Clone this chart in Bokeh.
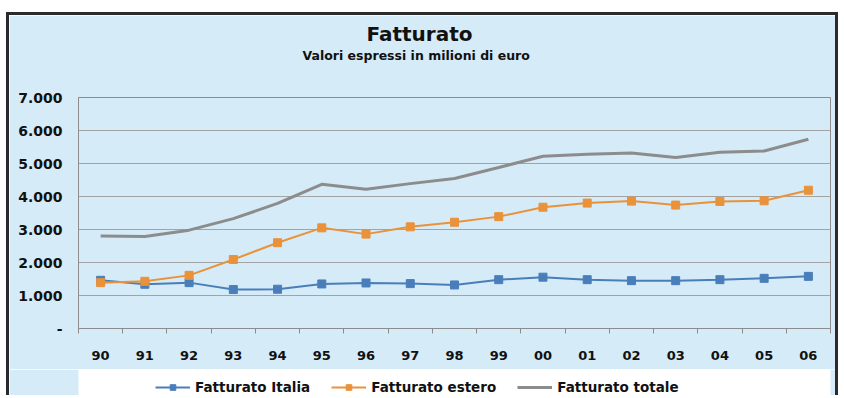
from bokeh.plotting import figure
from bokeh.models import FixedTicker, Legend, LegendItem, Title, Range1d
from bokeh.layouts import column
from bokeh.embed import file_html
from bokeh.resources import INLINE

# ---- data ----
years = ["90", "91", "92", "93", "94", "95", "96", "97", "98", "99",
         "00", "01", "02", "03", "04", "05", "06"]
italia = [1460, 1340, 1390, 1180, 1190, 1350, 1380, 1360, 1320, 1480,
          1555, 1480, 1450, 1450, 1480, 1520, 1580]
estero = [1390, 1430, 1610, 2090, 2600, 3050, 2860, 3080, 3220, 3390,
          3675, 3800, 3860, 3740, 3850, 3870, 4190]
totale = [2800, 2790, 2980, 3330, 3790, 4370, 4220, 4390, 4545, 4880,
          5220, 5280, 5320, 5180, 5340, 5380, 5735]
y_ticks = [0, 1000, 2000, 3000, 4000, 5000, 6000, 7000]
y_tick_labels = ["-", "1.000", "2.000", "3.000", "4.000", "5.000", "6.000", "7.000"]
series_names = ["Fatturato Italia", "Fatturato estero", "Fatturato totale"]
title_text = "Fatturato"
subtitle_text = "Valori espressi in milioni di euro"

BG = "#d5ebf7"
BLUE = "#4a7ebb"
ORANGE = "#e9923a"
GRAY = "#8c8c8c"
FONT = "DejaVu Sans"
EDGE = "3px solid #2b2b2b"

xs = list(range(len(years)))

p = figure(width=832, height=357, output_backend="svg", toolbar_location=None,
           x_range=Range1d(-0.5, len(years) - 0.5), y_range=Range1d(0, 7000),
           min_border_left=69, min_border_right=11, min_border_top=82,
           min_border_bottom=44)
p.margin = (12, 0, 0, 6)
p.styles = {"border-left": EDGE, "border-top": EDGE, "border-right": EDGE}
p.background_fill_color = BG
p.border_fill_color = BG
p.outline_line_color = GRAY
p.outline_line_width = 1

xa = p.below[0]
ya = p.left[0]

# titles (stacked from the frame upwards: spacer, subtitle, title)
p.title.text = title_text
p.title.text_font = FONT
p.title.text_font_size = "20px"
p.title.text_font_style = "bold"
p.title.text_color = "#111111"
p.title.align = "left"
p.title.offset = 288
p.title.standoff = 0
sub = Title(text=subtitle_text, text_font=FONT, text_font_size="12.5px",
            text_font_style="bold", text_color="#111111", align="left",
            offset=224, standoff=0)
spacer = Title(text=" ", text_font=FONT, text_font_size="10px", standoff=22)
p.add_layout(sub, "above")
p.add_layout(spacer, "above")
p.above = [spacer, sub]

# x axis
xa.ticker = FixedTicker(ticks=xs, minor_ticks=[i - 0.5 for i in range(len(years) + 1)])
xa.major_label_overrides = {i: y for i, y in enumerate(years)}
xa.major_tick_line_color = None
xa.major_tick_out = 0
xa.major_tick_in = 0
xa.minor_tick_line_color = GRAY
xa.minor_tick_out = 5
xa.minor_tick_in = 0
xa.axis_line_color = GRAY
xa.major_label_standoff = 17
xa.major_label_text_font = FONT
xa.major_label_text_font_style = "bold"
xa.major_label_text_font_size = "13px"
xa.major_label_text_color = "#111111"

# y axis
ya.ticker = FixedTicker(ticks=y_ticks, minor_ticks=[])
ya.major_label_overrides = {t: lab for t, lab in zip(y_ticks, y_tick_labels)}
ya.major_tick_line_color = None
ya.major_tick_out = 0
ya.major_tick_in = 0
ya.minor_tick_line_color = None
ya.axis_line_color = GRAY
ya.major_label_standoff = 16
ya.major_label_text_font = FONT
ya.major_label_text_font_style = "bold"
ya.major_label_text_font_size = "14px"
ya.major_label_text_color = "#111111"

p.xgrid.grid_line_color = None
p.ygrid.grid_line_color = "#a3a3a3"
p.ygrid.grid_line_width = 1


def draw_series(fig):
    r_tot = fig.line(xs, totale, line_color=GRAY, line_width=3)
    r_it = fig.line(xs, italia, line_color=BLUE, line_width=2)
    m_it = fig.scatter(xs, italia, marker="square", size=8, fill_color=BLUE, line_color=BLUE)
    r_es = fig.line(xs, estero, line_color=ORANGE, line_width=2)
    m_es = fig.scatter(xs, estero, marker="square", size=8, fill_color=ORANGE, line_color=ORANGE)
    return [r_it, m_it], [r_es, m_es], [r_tot]


draw_series(p)

# legend strip below the chart; its view range hides the series, only the key shows
q = figure(width=832, height=26, output_backend="svg", toolbar_location=None,
           x_range=Range1d(-0.5, len(years) - 0.5), y_range=Range1d(0, 1),
           x_axis_type=None, y_axis_type=None, min_border=0,
           min_border_left=0, min_border_right=0, min_border_top=0,
           min_border_bottom=0)
q.margin = (0, 0, 0, 6)
q.styles = {"border-left": EDGE, "border-right": EDGE}
q.background_fill_color = None
q.border_fill_color = BG
q.outline_line_color = None
q.grid.visible = False
leg_it, leg_es, leg_tot = draw_series(q)

legend = Legend(items=[LegendItem(label=series_names[0], renderers=leg_it),
                       LegendItem(label=series_names[1], renderers=leg_es),
                       LegendItem(label=series_names[2], renderers=leg_tot)],
                orientation="horizontal", location=(77, 0),
                background_fill_alpha=0, border_line_color=None,
                padding=0, margin=0, spacing=21, label_standoff=5,
                glyph_width=35, glyph_height=14, label_height=14,
                label_text_font=FONT, label_text_font_style="bold",
                label_text_font_size="13.5px", label_text_color="#111111")
q.add_layout(legend, "center")

layout = column(p, q, spacing=0)
open("out.html", "w").write(file_html(layout, INLINE))
